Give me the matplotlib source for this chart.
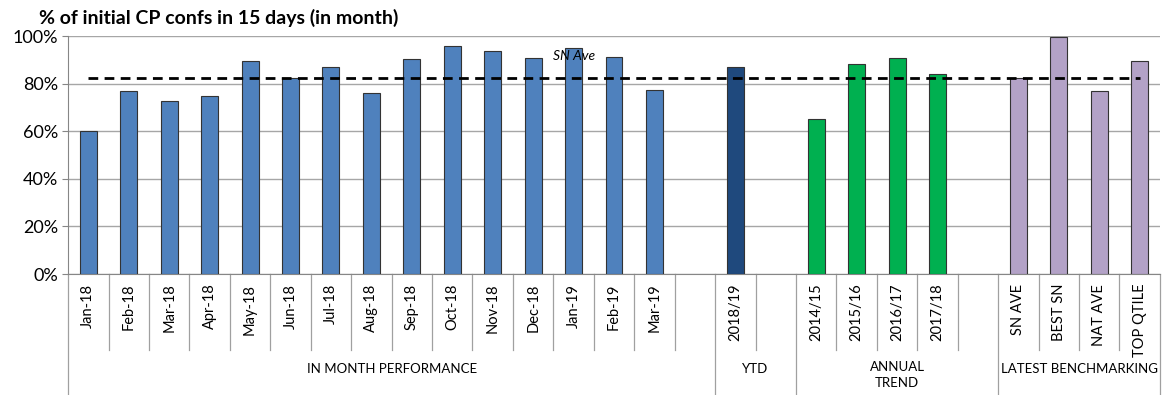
import numpy as np
import matplotlib
matplotlib.use('Agg')
import matplotlib.pyplot as plt
from matplotlib.ticker import PercentFormatter

plt.rcParams['font.family'] = ['Lato', 'DejaVu Sans']

# data
months = ['Jan-18', 'Feb-18', 'Mar-18', 'Apr-18', 'May-18', 'Jun-18', 'Jul-18', 'Aug-18',
          'Sep-18', 'Oct-18', 'Nov-18', 'Dec-18', 'Jan-19', 'Feb-19', 'Mar-19']
month_vals = [60.0, 76.8, 72.6, 74.6, 89.4, 82.4, 87.0, 76.1, 90.2, 96.0, 93.7, 90.9, 94.8, 91.1, 77.5]
ytd_labels = ['2018/19']
ytd_vals = [86.8]
annual_labels = ['2014/15', '2015/16', '2016/17', '2017/18']
annual_vals = [65.2, 88.2, 90.9, 84.0]
bench_labels = ['SN AVE', 'BEST SN', 'NAT AVE', 'TOP QTILE']
bench_vals = [82.5, 99.4, 76.9, 89.3]
sn_ave = 82.5
group_names = ['IN MONTH PERFORMANCE', 'YTD', 'ANNUAL\nTREND', 'LATEST BENCHMARKING']

groups = [
    (months, month_vals, '#4F81BD'),
    (ytd_labels, ytd_vals, '#1F497D'),
    (annual_labels, annual_vals, '#00B050'),
    (bench_labels, bench_vals, '#B3A2C7'),
]

labels, values, colors, bounds = [], [], [], [0]
for i, (labs, vals, col) in enumerate(groups):
    labels += labs
    values += vals
    colors += [col] * len(labs)
    if i < len(groups) - 1:  # blank slot after each group except the last
        labels.append('')
        values.append(np.nan)
        colors.append('white')
    bounds.append(len(labels))

x = np.arange(len(labels))

fig = plt.figure(figsize=(11.74, 3.95), dpi=100)
ax = fig.add_axes([0.058, 0.3063, 0.930, 0.6025])

ax.bar(x, values, width=0.42, color=colors, edgecolor='#333333', linewidth=0.8, zorder=3)
ax.plot([x[0], x[-1]], [sn_ave, sn_ave], color='black', lw=2, dashes=(3.5, 2.3), zorder=4)
ax.text(12, 91.5, 'SN Ave', fontsize=10, style='italic', ha='center', va='center', zorder=5)

ax.set_xlim(-0.5, len(labels) - 0.5)
ax.set_ylim(0, 100)
ax.set_yticks(np.arange(0, 101, 20))
ax.yaxis.set_major_formatter(PercentFormatter(decimals=0))
ax.tick_params(axis='y', labelsize=13, length=4, color='#868686', pad=3)
ax.grid(axis='y', color='#A6A6A6', lw=1, zorder=0)

ax.set_xticks(x)
ax.set_xticklabels(labels, rotation=90, fontsize=10.5, va='top')
ax.tick_params(axis='x', length=0, pad=7)

for s in ['top', 'right']:
    ax.spines[s].set_visible(False)
ax.spines['left'].set_color('#868686')
ax.spines['bottom'].set_color('#868686')

trans = ax.get_xaxis_transform()
for b in range(len(labels) + 1):
    bottom = -0.508 if b in bounds else -0.32
    ax.plot([b - 0.5, b - 0.5], [0, bottom], transform=trans, color='#A0A0A0', lw=0.9, clip_on=False)

for g in range(len(group_names)):
    xc = (bounds[g] + bounds[g + 1]) / 2 - 0.5
    name = group_names[g]
    if '\n' in name:
        ax.text(xc, -0.365, name, transform=trans, ha='center', va='top', fontsize=9.5, linespacing=1.4)
    else:
        ax.text(xc, -0.40, name, transform=trans, ha='center', va='center', fontsize=9.5)

fig.text(0.033, 0.955, '% of initial CP confs in 15 days (in month)', fontsize=14, fontweight='bold',
         ha='left', va='center')

fig.savefig('out.png', dpi=100)
